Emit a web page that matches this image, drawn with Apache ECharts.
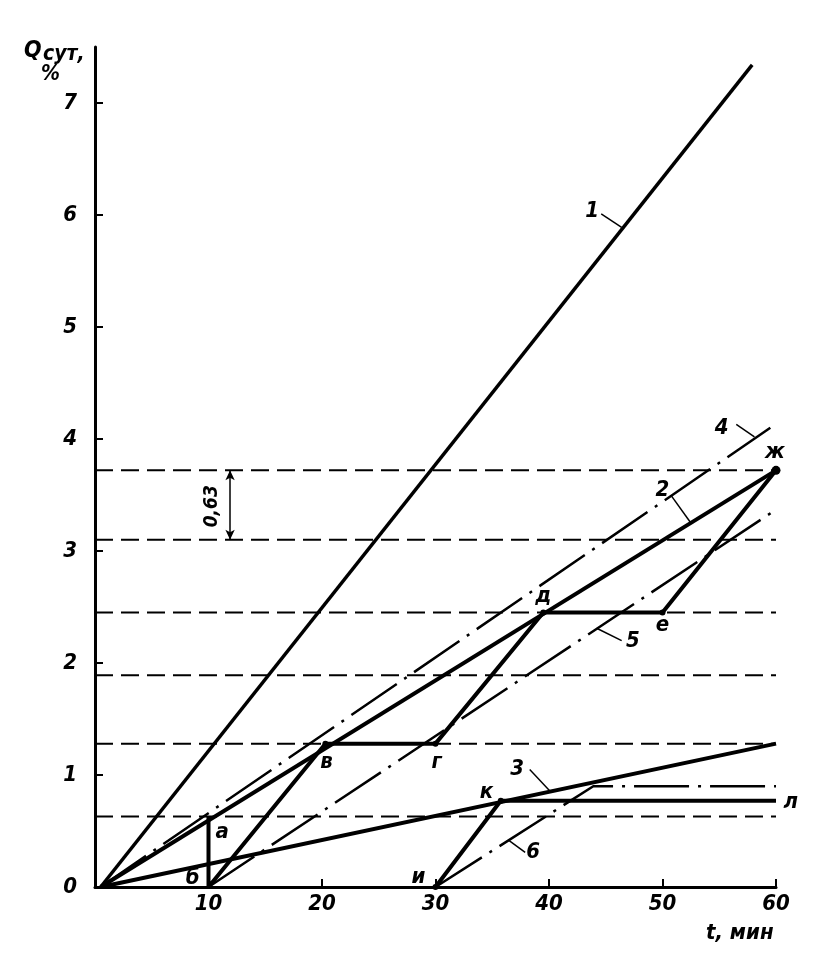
<!DOCTYPE html>
<html><head><meta charset="utf-8">
<script src="https://cdn.jsdelivr.net/npm/echarts@6/dist/echarts.min.js"></script>
<style>html,body{margin:0;padding:0;background:#fff}#c{width:838px;height:977px}</style>
</head><body><div id="c"></div>
<script>
// ---- data ----
const xTickValues = [10, 20, 30, 40, 50, 60];
const yTickValues = [1, 2, 3, 4, 5, 6, 7];
const yLabelValues = [0, 1, 2, 3, 4, 5, 6, 7];
const dashedLevels = [0.63, 1.28, 1.89, 2.45, 3.10, 3.72];
const line1 = [[0.5, 0], [57.9, 7.34]];
const line2 = [[0.5, 0], [60, 3.72]];
const line3 = [[0.5, 0], [60, 1.28]];
const line4 = [[0.5, 0], [59.5, 4.10]];
const line5 = [[10, 0], [60, 3.37]];
const line6 = [[30, 0], [43.9, 0.90], [60, 0.90]];
const staircase = [[10, 0.63], [10, 0], [20.3, 1.28], [30, 1.28], [39.5, 2.45], [50, 2.45], [60, 3.72]];
const branchIKL = [[30, 0], [35.75, 0.77], [60, 0.77]];
const markedPoints = [[20.3, 1.28], [30, 1.28], [39.5, 2.45], [50, 2.45], [35.75, 0.77], [30, 0]];
const endPoint = [[60, 3.72]];
const pointLabels = [
  ['а', 11.2, 0.49], ['б', 8.6, 0.08], ['в', 20.4, 1.11], ['г', 30.1, 1.11],
  ['д', 39.5, 2.60], ['е', 50.0, 2.34], ['ж', 59.9, 3.88], ['и', 28.5, 0.09],
  ['к', 34.5, 0.85], ['л', 61.3, 0.76]
];
const curveLabels = [
  ['1', 43.8, 6.03], ['2', 50.0, 3.54], ['3', 37.2, 1.05],
  ['4', 55.2, 4.10], ['5', 47.4, 2.19], ['6', 38.6, 0.31]
];
const leaders = [
  [[44.6, 6.01], [46.4, 5.89]],
  [[50.8, 3.49], [52.5, 3.25]],
  [[38.3, 1.05], [40.1, 0.855]],
  [[56.5, 4.13], [58.1, 4.02]],
  [[44.2, 2.31], [46.4, 2.20]],
  [[36.4, 0.42], [37.9, 0.31]]
];
const dimensionLine = [[11.9, 3.72], [11.9, 3.10]];
const dimensionLabel = [['0,63', 10.3, 3.40]];

// ---- styling ----
const FONT = "'Liberation Sans Narrow','DejaVu Sans Condensed','Liberation Sans',sans-serif";
const TXT = { fontFamily: FONT, fontStyle: 'italic', fontWeight: 'bold', color: '#000' };
const DASHDOT = [55, 9, 3, 9];

function lineSeries(data, width, type) {
  return {
    type: 'line', data: data, symbol: 'none', silent: true, z: 3,
    lineStyle: { color: '#000', width: width, type: type || 'solid', cap: 'butt', opacity: 1 },
    animation: false
  };
}

const series = [];
dashedLevels.forEach(function (v) {
  series.push(lineSeries([[0, v], [60, v]], 2, [18, 8]));
});
series.push(lineSeries(line1, 3.5));
series.push(lineSeries(line2, 4));
series.push(lineSeries(line3, 4));
series.push(lineSeries(line4, 2.5, DASHDOT));
series.push(lineSeries(line5, 2.5, DASHDOT));
series.push(lineSeries(line6, 2.5, DASHDOT));
series.push(lineSeries(staircase, 4));
series.push(lineSeries(branchIKL, 4));
leaders.forEach(function (l) { series.push(lineSeries(l, 1.5)); });

// dimension line with arrows
series.push({
  type: 'line', data: [], symbol: 'none', animation: false,
  markLine: {
    silent: true, symbol: ['arrow', 'arrow'], symbolSize: [7, 10],
    label: { show: false },
    lineStyle: { color: '#000', width: 1.5, type: 'solid' },
    data: [[{ coord: dimensionLine[0] }, { coord: dimensionLine[1] }]]
  }
});

series.push({
  type: 'scatter', data: markedPoints, symbolSize: 6, clip: false, z: 5,
  itemStyle: { color: '#000', opacity: 1 }, animation: false, silent: true
});
series.push({
  type: 'scatter', data: endPoint, symbolSize: 9, clip: false, z: 5,
  itemStyle: { color: '#000', opacity: 1 }, animation: false, silent: true
});

function textSeries(list, size, rotate) {
  return {
    type: 'scatter', clip: false, symbolSize: 0, z: 6, silent: true, animation: false,
    itemStyle: { color: '#000', opacity: 1 },
    data: list.map(function (d) { return { name: d[0], value: [d[1], d[2]] }; }),
    label: Object.assign({
      show: true, position: 'inside', formatter: '{b}', fontSize: size,
      rotate: rotate || 0, opacity: 1, textBorderWidth: 0
    }, TXT)
  };
}
series.push(textSeries(pointLabels, 22));
series.push(textSeries(curveLabels, 22));
series.push(textSeries(dimensionLabel, 19, 90));

const chart = echarts.init(document.getElementById('c'), null, { renderer: 'canvas' });
chart.setOption({
  backgroundColor: '#fff',
  animation: false,
  grid: { left: 95, right: 62, top: 47, bottom: 90 },
  xAxis: {
    type: 'value', min: 0, max: 60, interval: 10,
    axisLine: { show: true, onZero: false, lineStyle: { color: '#000', width: 3 } },
    axisTick: { show: true, inside: true, length: 8, lineStyle: { color: '#000', width: 2 }, customValues: xTickValues },
    axisLabel: Object.assign({ fontSize: 22, margin: 6, customValues: xTickValues }, TXT),
    splitLine: { show: false }
  },
  yAxis: {
    type: 'value', min: 0, max: 7.5, interval: 1,
    axisLine: { show: true, onZero: false, lineStyle: { color: '#000', width: 3 } },
    axisTick: { show: true, inside: true, length: 8, lineStyle: { color: '#000', width: 2 }, customValues: yTickValues },
    axisLabel: Object.assign({ fontSize: 22, margin: 18, customValues: yLabelValues }, TXT),
    splitLine: { show: false }
  },
  graphic: [
    { type: 'text', left: 24, top: 40, style: Object.assign({ text: 'Q', fontSize: 23 }, TXT, { fill: '#000' }) },
    { type: 'text', left: 43, top: 44, style: Object.assign({ text: 'сут,', fontSize: 21 }, TXT, { fill: '#000' }) },
    { type: 'text', left: 41, top: 64, style: Object.assign({ text: '%', fontSize: 21 }, TXT, { fill: '#000' }) },
    { type: 'text', left: 706, top: 922, style: Object.assign({ text: 't, мин', fontSize: 22 }, TXT, { fill: '#000' }) }
  ],
  series: series
});
</script>
</body></html>
